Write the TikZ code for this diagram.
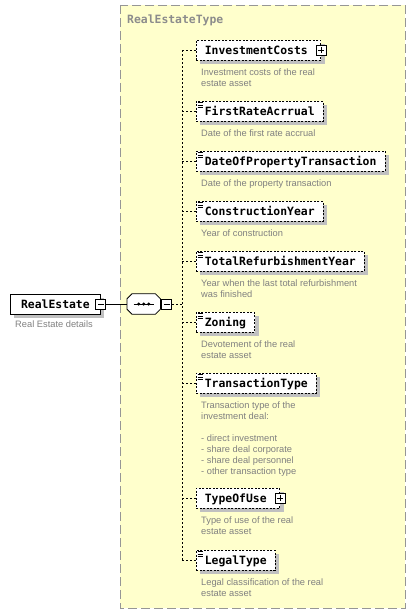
\documentclass[tikz,border=0pt]{standalone}
\usepackage{fontspec}
\setmainfont{Liberation Sans}
\setmonofont{DejaVu Sans Mono}
\usetikzlibrary{positioning, shadows}

\definecolor{typefill}{RGB}{255,255,204}
\definecolor{typeline}{RGB}{150,150,150}
\definecolor{typetext}{RGB}{140,140,140}
\definecolor{shadowgrey}{RGB}{192,192,192}
\definecolor{docgrey}{RGB}{128,128,128}

\tikzset{
  shade box/.style={drop shadow={shadow xshift=4pt, shadow yshift=-4pt, fill=shadowgrey, opacity=1}},
  namefont/.style={font=\ttfamily\bfseries\fontsize{11.4}{13}\selectfont},
  elem/.style={shade box, namefont, draw=black, dash pattern=on 2pt off 1.5pt, line width=0.7pt, fill=white,
    anchor=north west, minimum height=20pt, inner xsep=8.5pt, inner ysep=0pt, text height=10pt, text depth=1.7pt},
  root/.style={elem, solid, line width=0.8pt, anchor=west, minimum width=90pt},
  withplus/.style={execute at end node={\hspace{4.5pt}}},
  doc/.style={anchor=north west, inner sep=0pt, align=left, text=docgrey, font=\fontsize{9.3}{11}\selectfont},
  expbox/.style={draw=black, solid, line width=0.7pt, fill=white, minimum size=10pt, inner sep=0pt},
  plusbox/.style={expbox, path picture={
      \draw[line width=0.7pt] ([xshift=2pt]path picture bounding box.west) -- ([xshift=-2pt]path picture bounding box.east)
        ([yshift=-2pt]path picture bounding box.north) -- ([yshift=2pt]path picture bounding box.south);}},
  minusbox/.style={expbox, path picture={
      \draw[line width=0.7pt] ([xshift=2pt]path picture bounding box.west) -- ([xshift=-2pt]path picture bounding box.east);}},
  seq/.style={minimum width=33pt, minimum height=20pt, inner sep=0pt, anchor=west},
  seqback/.style={fill=shadowgrey},
  seqface/.style={fill=white, draw=black, line width=0.8pt},
  conn/.style={draw=black, dash pattern=on 2pt off 2pt, line width=0.7pt}
}

\begin{document}
\begin{tikzpicture}[x=1pt, y=-1pt]
  \useasboundingbox (0,0) rectangle (415,615);

  % complex type area
  \draw[fill=typefill, draw=typeline, line width=0.9pt, dash pattern=on 9pt off 4pt] (120,5) rectangle (405,608);
  \node[namefont, text=typetext, anchor=west, inner sep=0pt] (TypeName) at (127,20) {RealEstateType};

  % root element and sequence
  \node[root] (RealEstate) at (10,304) {RealEstate\hspace{3pt}};
  \node[doc, below right=6pt and 5pt of RealEstate.south west] (RealEstateDoc) {Real Estate details};
  \node[minusbox] (RootMinus) at (RealEstate.east) {};
  \node[seq] (Seq) at (127,304) {};
  \foreach \s/\st in {4/seqback, 0/seqface}
    \path[\st, shift={(\s,\s)}] ([xshift=5pt]Seq.north west) -- ([xshift=-5pt]Seq.north east)
      -- ([yshift=-5pt]Seq.north east) -- ([yshift=5pt]Seq.south east) -- ([xshift=-5pt]Seq.south east)
      -- ([xshift=5pt]Seq.south west) -- ([yshift=5pt]Seq.south west) -- ([yshift=-5pt]Seq.north west) -- cycle;
  \draw[line width=0.8pt] ([xshift=-10pt]Seq.center) -- ([xshift=10pt]Seq.center);
  \foreach \d in {-5,0,5} \fill ([xshift=\d pt]Seq.center) circle (1.7pt);
  \node[minusbox, anchor=west] (SeqMinus) at ([xshift=1pt]Seq.east) {};
  \draw[line width=0.8pt] (RootMinus.east) -- (Seq.west);

  % child elements
  \node[elem, withplus] (InvCosts) at (196,40) {InvestmentCosts};
  \node[plusbox] (InvCostsPlus) at (InvCosts.east) {};
  \node[doc, below right=8pt and 5pt of InvCosts.south west] (InvCostsDoc) {Investment costs of the real\\estate asset};

  \node[elem] (FirstRate) at (196,101) {FirstRateAcrrual};
  \node[doc, below right=8pt and 5pt of FirstRate.south west] (FirstRateDoc) {Date of the first rate accrual};

  \node[elem] (PropTrans) at (196,151) {DateOfPropertyTransaction};
  \node[doc, below right=8pt and 5pt of PropTrans.south west] (PropTransDoc) {Date of the property transaction};

  \node[elem] (ConstrYear) at (196,201) {ConstructionYear};
  \node[doc, below right=8pt and 5pt of ConstrYear.south west] (ConstrYearDoc) {Year of construction};

  \node[elem] (RefurbYear) at (196,251) {TotalRefurbishmentYear};
  \node[doc, below right=8pt and 5pt of RefurbYear.south west] (RefurbYearDoc) {Year when the last total refurbishment\\was finished};

  \node[elem] (Zoning) at (196,312) {Zoning};
  \node[doc, below right=8pt and 5pt of Zoning.south west] (ZoningDoc) {Devotement of the real\\estate asset};

  \node[elem] (TransType) at (196,373) {TransactionType};
  \node[doc, below right=8pt and 5pt of TransType.south west] (TransTypeDoc) {Transaction type of the\\investment deal:\\[11pt]- direct investment\\- share deal corporate\\- share deal personnel\\- other transaction type};

  \node[elem, withplus] (TypeOfUse) at (196,488) {TypeOfUse};
  \node[plusbox] (TypeOfUsePlus) at (TypeOfUse.east) {};
  \node[doc, below right=8pt and 5pt of TypeOfUse.south west] (TypeOfUseDoc) {Type of use of the real\\estate asset};

  \node[elem] (LegalType) at (196,550) {LegalType};
  \node[doc, below right=8pt and 5pt of LegalType.south west] (LegalTypeDoc) {Legal classification of the real\\estate asset};

  % documentation marks
  \foreach \n in {FirstRate, PropTrans, ConstrYear, RefurbYear, Zoning, TransType, LegalType}
    \foreach \k in {1.7,3.9,6.1}
      \draw[line width=0.6pt] ([shift={(1.5,\k)}]\n.north west) -- ++(5,0);

  % sequence connectors
  \coordinate (Spine) at (182,304);
  \draw[conn] (SeqMinus.east) -- (Spine);
  \draw[conn] (Spine |- InvCosts.west) -- (Spine |- LegalType.west);
  \foreach \n in {InvCosts, FirstRate, PropTrans, ConstrYear, RefurbYear, Zoning, TransType, TypeOfUse, LegalType}
    \draw[conn] (Spine |- \n.west) -- (\n.west);
\end{tikzpicture}
\end{document}
